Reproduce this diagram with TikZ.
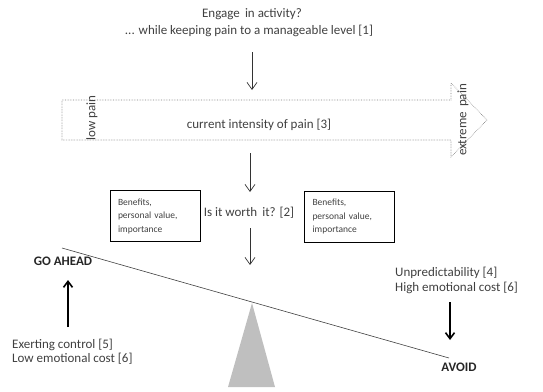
\documentclass[tikz,border=0pt]{standalone}
\usepackage{fontspec}
\setmainfont{Carlito}
\usetikzlibrary{arrows.meta}
\definecolor{txt}{HTML}{404040}
\tikzset{
  lbl/.style={inner sep=0pt, text=txt, font=\fontsize{13}{15}\selectfont},
  boxtxt/.style={draw=black, line width=0.8pt, inner sep=0pt, minimum width=90pt, minimum height=51pt, text=txt, font=\fontsize{9.5}{13.5}\selectfont, align=left, text width=74pt},
  thinarrow/.style={draw=black!80, line width=0.7pt, -{Straight Barb[length=7pt,width=10pt]}},
  thickarrow/.style={draw=black, line width=1.6pt, -{Straight Barb[length=6pt,width=9pt]}},
  bigarrow/.style={draw=gray, densely dotted, line width=0.6pt},
  strong/.style={lbl, text=black!85, font=\fontsize{13}{15}\selectfont\bfseries},
}
\begin{document}
\begin{tikzpicture}[x=1pt,y=-1pt]
\useasboundingbox (0,0) rectangle (543,391);
% top text
\node[lbl] (q1) at (252,14) {Engage\,\ in activity?};
\node[lbl] (q1b) at (249,31) {... while keeping pain to a manageable level [1]};
\coordinate (a1s) at (252,52);
\coordinate (a1e) at (252,90);
\draw[thinarrow] (a1s) -- (a1e);
% big arrow
\draw[bigarrow] (62,100) coordinate (ba1) -- (451,100) -- (451,83) -- (487,120) -- (451,157) -- (451,140) -- (62,140) -- cycle;
\node[lbl] (cur) at (259,125) {current intensity of pain [3]};
\node[lbl, rotate=90] (low) at (92,118) {low pain};
\node[lbl, rotate=90] (ext) at (463,120) {extreme\,\ pain};
% second arrow
\coordinate (a2s) at (250,153);
\coordinate (a2e) at (250,192);
\draw[thinarrow] (a2s) -- (a2e);
% boxes
\node[boxtxt] (bl) at (155,216) {Benefits,\\personal value,\\importance};
\node[boxtxt] (br) at (349.5,216.5) {Benefits,\\personal value,\\importance};
\node[lbl] (worth) at (249,213) {Is it worth\,\ it? [2]};
\coordinate (a3s) at (250,228);
\coordinate (a3e) at (250,265);
\draw[thinarrow] (a3s) -- (a3e);
% beam and fulcrum
\coordinate (bL) at (62,248);
\coordinate (bR) at (449,358);
\draw[black!75, line width=0.6pt] (bL) -- (bR);
\fill[black!25] (252,303) coordinate (apex) -- (275,387) -- (228,387) -- cycle;
% labels
\node[strong] (go) at (63,261) {GO AHEAD};
\node[strong] (avoid) at (459,367) {AVOID};
\node[lbl, anchor=west, align=left, font=\fontsize{13}{14}\selectfont] (ctrl) at (12,351.5) {Exerting control [5]\\Low emotional cost [6]};
\node[lbl, anchor=west, align=left, font=\fontsize{13}{15}\selectfont] (unp) at (395,280.5) {Unpredictability [4]\\High emotional cost [6]};
\coordinate (upS) at (68,327);
\coordinate (upE) at (68,280);
\draw[thickarrow] (upS) -- (upE);
\coordinate (dnS) at (450,302);
\coordinate (dnE) at (450,340);
\draw[thickarrow] (dnS) -- (dnE);
\end{tikzpicture}
\end{document}
